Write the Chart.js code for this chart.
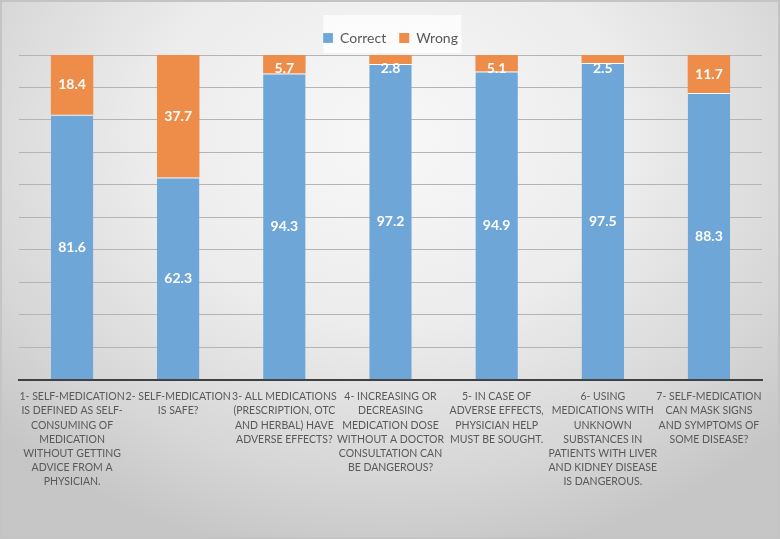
<!DOCTYPE html>
<html>
<head>
<meta charset="utf-8">
<script src="https://cdn.jsdelivr.net/npm/chart.js@4.4.1/dist/chart.umd.min.js"></script>
<style>
  html, body { margin: 0; padding: 0; }
  body { width: 780px; height: 539px; overflow: hidden; }
  #wrap {
    position: absolute; left: 0; top: 0; width: 776px; height: 535px;
    border: 2px solid #c4c4c4;
    background: radial-gradient(ellipse 70% 80% at 50% 25%, #f8f8f8 0%, #ececec 45%, #d6d6d6 80%, #c6c6c6 100%);
  }
  canvas { position: absolute; left: 0; top: 0; }
</style>
</head>
<body>
<div id="wrap"><canvas id="c" width="776" height="535"></canvas></div>
<script>
const categories = [
  ["1- SELF-MEDICATION", "IS DEFINED AS SELF-", "CONSUMING OF", "MEDICATION", "WITHOUT GETTING", "ADVICE FROM A", "PHYSICIAN."],
  ["2- SELF-MEDICATION", "IS SAFE?"],
  ["3- ALL MEDICATIONS", "(PRESCRIPTION, OTC", "AND HERBAL) HAVE", "ADVERSE EFFECTS?"],
  ["4- INCREASING OR", "DECREASING", "MEDICATION DOSE", "WITHOUT A DOCTOR", "CONSULTATION CAN", "BE DANGEROUS?"],
  ["5- IN CASE OF", "ADVERSE EFFECTS,", "PHYSICIAN HELP", "MUST BE SOUGHT."],
  ["6- USING", "MEDICATIONS WITH", "UNKNOWN", "SUBSTANCES IN", "PATIENTS WITH LIVER", "AND KIDNEY DISEASE", "IS DANGEROUS."],
  ["7- SELF-MEDICATION", "CAN MASK SIGNS", "AND SYMPTOMS OF", "SOME DISEASE?"]
];
const correct = [81.6, 62.3, 94.3, 97.2, 94.9, 97.5, 88.3];
const wrong = [18.4, 37.7, 5.7, 2.8, 5.1, 2.5, 11.7];
const yTicks = [0, 10, 20, 30, 40, 50, 60, 70, 80, 90, 100];

const legendBg = {
  id: 'legendBg',
  beforeDraw(chart) {
    const l = chart.legend;
    if (!l) return;
    const ctx = chart.ctx;
    ctx.save();
    ctx.fillStyle = 'rgba(255,255,255,0.75)';
    const w = 138, h = 38;
    const cx = (l.left + l.right) / 2;
    ctx.fillRect(cx - w / 2 + 2, l.top - 3, w, h);
    ctx.restore();
  }
};

const barLabels = {
  id: 'barLabels',
  afterDatasetsDraw(chart) {
    const ctx = chart.ctx;
    ctx.save();
    ctx.fillStyle = '#ffffff';
    ctx.font = 'bold 14px Lato, "Open Sans", sans-serif';
    ctx.textAlign = 'center';
    ctx.textBaseline = 'middle';
    chart.data.datasets.forEach((ds, di) => {
      const meta = chart.getDatasetMeta(di);
      meta.data.forEach((bar, i) => {
        const top = Math.min(bar.y, bar.base);
        const bot = Math.max(bar.y, bar.base);
        let y = (top + bot) / 2;
        if (bot - top < 22) y = Math.max(y, top + 13);
        ctx.fillText(ds.data[i].toFixed(1), bar.x, y);
      });
    });
    ctx.restore();
  }
};

new Chart(document.getElementById('c'), {
  type: 'bar',
  data: {
    labels: categories,
    datasets: [
      { label: 'Correct', data: correct, backgroundColor: '#6fa6d8',
        borderColor: 'rgba(255,255,255,0.85)', borderWidth: {top: 1, left: 0, right: 0, bottom: 0}, borderSkipped: false,
        categoryPercentage: 1.0, barPercentage: 0.4 },
      { label: 'Wrong', data: wrong, backgroundColor: '#ee8d4a', borderWidth: 0,
        categoryPercentage: 1.0, barPercentage: 0.4 }
    ]
  },
  options: {
    responsive: false,
    animation: false,
    layout: { padding: { left: 17, right: 16, top: 16, bottom: 38 } },
    plugins: {
      legend: {
        position: 'top',
        labels: {
          boxWidth: 10, boxHeight: 10, padding: 13,
          color: '#595959',
          font: { family: 'Lato, "Open Sans", sans-serif', size: 14 }
        }
      },
      tooltip: { enabled: false }
    },
    scales: {
      x: {
        stacked: true,
        grid: { display: false, drawTicks: false },
        border: { display: true, color: '#404040', width: 2 },
        ticks: {
          color: '#595959', maxRotation: 0, minRotation: 0, autoSkip: false, padding: 10,
          font: { family: 'Lato, "Open Sans", sans-serif', size: 10.5, lineHeight: 1.35 }
        }
      },
      y: {
        stacked: true,
        min: 0, max: 100,
        afterBuildTicks(axis) { axis.ticks = yTicks.map(v => ({ value: v })); },
        ticks: { display: false },
        grid: { color: '#b4b4b4', lineWidth: 1, drawTicks: false },
        border: { display: false }
      }
    }
  },
  plugins: [legendBg, barLabels]
});
</script>
</body>
</html>
